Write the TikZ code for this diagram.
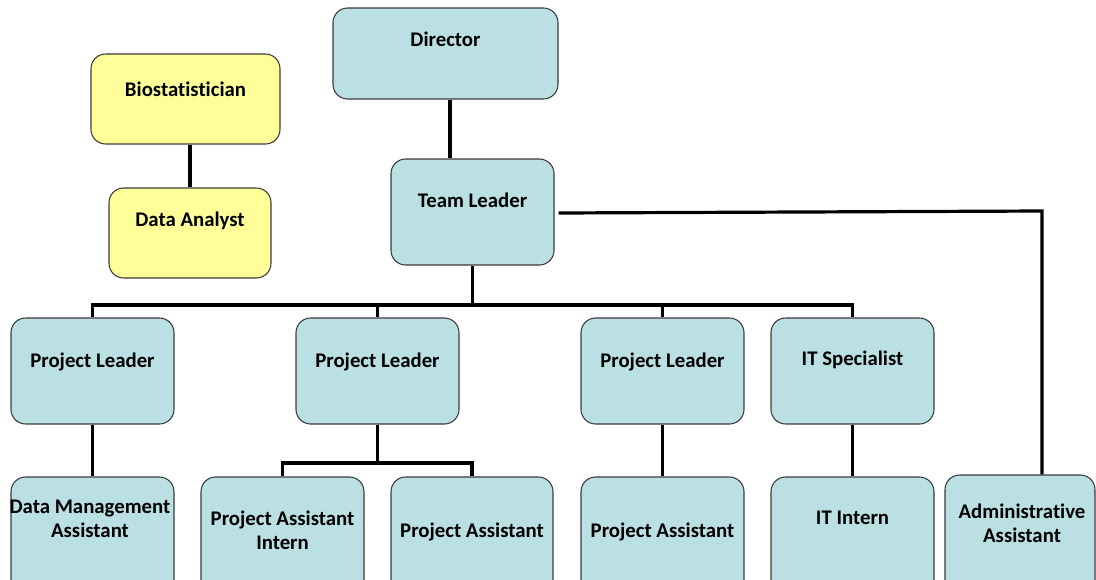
\documentclass[tikz,border=0pt]{standalone}
\usepackage{fontspec}
\setmainfont{Carlito}[Ligatures=NoCommon]
\usetikzlibrary{fit,calc}
\definecolor{boxblue}{HTML}{BBE0E3}
\definecolor{boxyellow}{HTML}{FFFF99}
\definecolor{boxline}{HTML}{3A3A3A}
\begin{document}
\begin{tikzpicture}[x=0.75pt,y=-0.75pt,
  box/.style={draw=boxline, line width=0.8pt, rounded corners=11pt, fill=boxblue, inner sep=0pt},
  ybox/.style={box, fill=boxyellow},
  txt/.style={font=\fontsize{15.6}{18}\selectfont\bfseries, align=center, inner sep=0pt, anchor=base},
  conn/.style={line width=2.4pt, black, line join=miter}]
\useasboundingbox (0,0) rectangle (1096,579);
\clip (0,0) rectangle (1096,579);
% boxes
\node[box,  fit={(333,8) (558,99)}]    (dir) {};
\node[ybox, fit={(91,54) (280,144)}]   (bio) {};
\node[ybox, fit={(109,188) (271,278)}] (da)  {};
\node[box,  fit={(391,159) (554,265)}] (tl)  {};
\node[box,  fit={(11,318) (174,424)}]  (pl1) {};
\node[box,  fit={(296,318) (459,424)}] (pl2) {};
\node[box,  fit={(581,318) (744,424)}] (pl3) {};
\node[box,  fit={(771,318) (934,424)}] (its) {};
\node[box,  fit={(11,477) (174,610)}]  (dma) {};
\node[box,  fit={(201,477) (364,610)}] (pai) {};
\node[box,  fit={(391,477) (553,610)}] (pa2) {};
\node[box,  fit={(581,477) (744,610)}] (pa3) {};
\node[box,  fit={(771,477) (934,610)}] (iti) {};
\node[box,  fit={(945,475) (1095,610)}] (adm) {};
% texts
\node[txt] (tdir) at (445.5,46) {Director};
\node[txt] (tbio) at (185.5,96) {Biostatistician};
\node[txt] (tda)  at (190,226) {Data Analyst};
\node[txt] (ttl)  at (472.5,207) {Team Leader};
\node[txt] (tpl1) at (92.5,367) {Project Leader};
\node[txt] (tpl2) at (377.5,367) {Project Leader};
\node[txt] (tpl3) at (662.5,367) {Project Leader};
\node[txt] (tits) at (852.5,365) {IT Specialist};
\node[txt] (tdma) at (90,537) {Data Management\\Assistant};
\node[txt] (tpai) at (282.5,549) {Project Assistant\\Intern};
\node[txt] (tpa2) at (472,537) {Project Assistant};
\node[txt] (tpa3) at (662.5,537) {Project Assistant};
\node[txt] (titi) at (852.5,524) {IT Intern};
\node[txt] (tadm) at (1022,542) {Administrative\\Assistant};
% connectors
\coordinate (k1) at (450,0);
\coordinate (bus) at (0,305);
\coordinate (bus2) at (0,463);
\coordinate (a2) at (1042,211);
\draw[conn] (bio.south -| da.north) -- (da.north);
\draw[conn] (dir.south -| k1) -- (tl.north -| k1);
\draw[conn] (tl.south) -- (tl.south |- bus);
\draw[conn] (pl1.north) -- (pl1.north |- bus) -- (its.north |- bus) -- (its.north);
\draw[conn] (pl2.north) -- (pl2.north |- bus);
\draw[conn] (pl3.north) -- (pl3.north |- bus);
\draw[conn] (pl1.south) -- (dma.north);
\draw[conn] (pl2.south) -- (pl2.south |- bus2);
\draw[conn] (pai.north) -- (pai.north |- bus2) -- (pa2.north |- bus2) -- (pa2.north);
\draw[conn] (pl3.south) -- (pa3.north);
\draw[conn] (its.south) -- (iti.north);
\draw[conn] ($(tl.east)+(4,1)$) -- (a2) -- (a2 |- adm.north);
\end{tikzpicture}
\end{document}
